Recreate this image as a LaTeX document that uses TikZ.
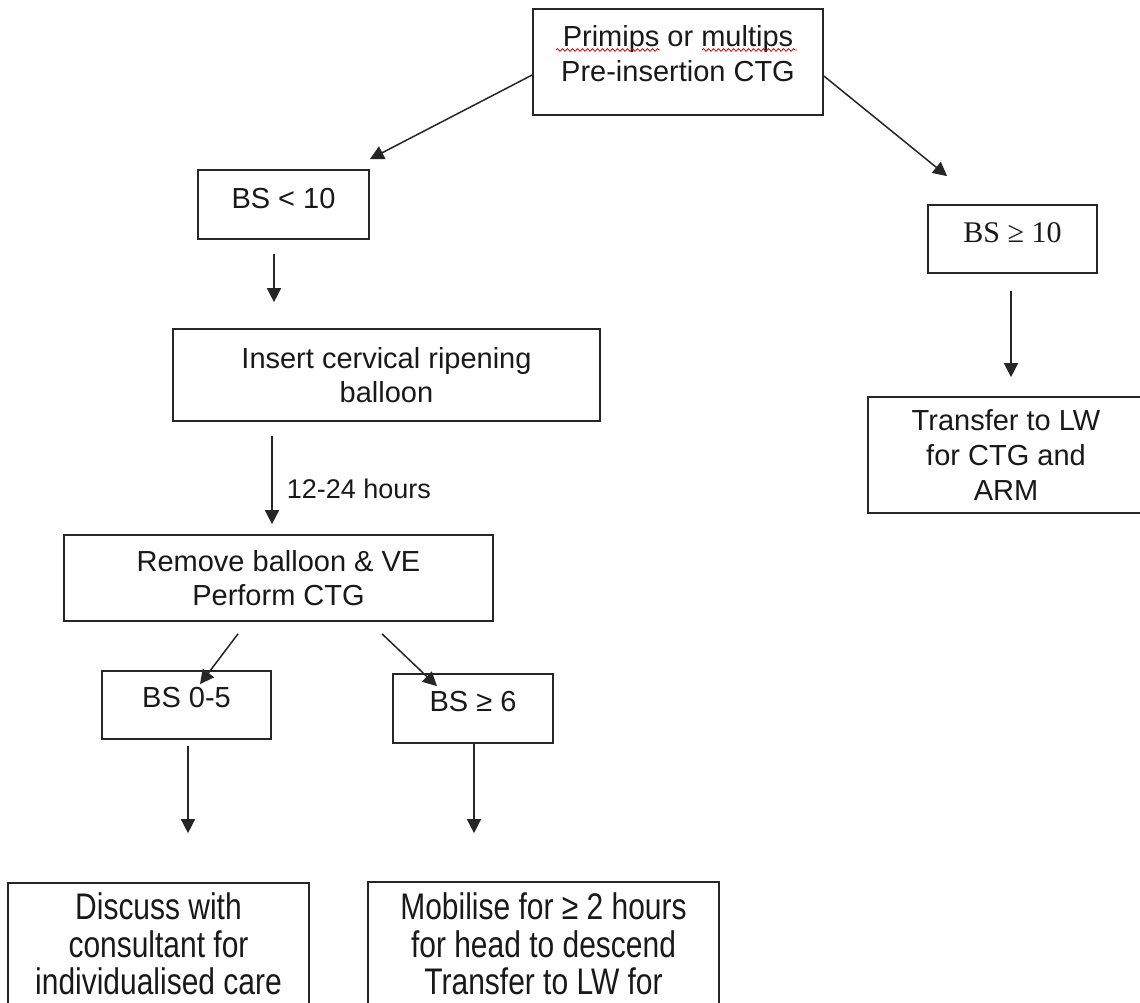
\documentclass[tikz,border=0pt]{standalone}
\usepackage{fontspec}
\setmainfont{Liberation Sans}
\newfontfamily\narrowfont[FakeStretch=0.81]{Liberation Sans}
\newfontfamily\serifont{Liberation Serif}
\usetikzlibrary{arrows.meta,decorations.pathmorphing}
\begin{document}
\begin{tikzpicture}[x=1pt,y=-1pt,
  box/.style={draw=black!85, line width=1.7pt, align=center, inner sep=0pt,
    font=\fontsize{29}{34}\selectfont, text=black!90},
  upbox/.style={box, text height=21pt, text depth=14pt},
  bigbox/.style={box, font=\narrowfont\fontsize{37}{37.5}\selectfont},
  txt/.style={align=center, inner sep=0pt, font=\fontsize{29}{35}\selectfont, text=black!90},
  arr/.style={draw=black!85, line width=1.5pt, -{Triangle[length=14pt,width=14pt]}},
  spell/.style={draw=red!85!black, line width=0.8pt,
    decorate, decoration={snake, amplitude=1.3pt, segment length=5pt}}]
\useasboundingbox[fill=white] (0,0) rectangle (1140,1003);

% boxes
\node[box, minimum width=290pt, minimum height=106pt] (top) at (678,62) {};
\node[txt] (toptext) at (678,54) {Primips or multips\\Pre-insertion CTG};
\draw[spell] (556,50) -- (660,50);
\draw[spell] (702,50) -- (797,50);

\node[upbox, minimum width=171pt, minimum height=69pt] (bslt) at (283.5,204.5) {BS < 10};
\node[upbox, font=\serifont\fontsize{30}{34}\selectfont, minimum width=169pt, minimum height=68pt] (bsge10) at (1012.5,239) {BS ≥ 10};
\node[box, minimum width=427pt, minimum height=92pt] (insert) at (386.5,375) {Insert cervical ripening\\balloon};
\node[box, minimum width=429pt, minimum height=86pt] (remove) at (278.5,578) {Remove balloon \& VE\\Perform CTG};
\node[box, font=\fontsize{29}{35}\selectfont, minimum width=276pt, minimum height=116pt] (transfer) at (1006,455) {Transfer to LW\\for CTG and\\ARM};
\node[upbox, text depth=16pt, minimum width=169pt, minimum height=68pt] (bs05) at (186.5,705) {BS 0-5};
\node[upbox, text depth=16pt, minimum width=160pt, minimum height=69pt] (bsge6) at (473,708.5) {BS ≥ 6};
\node[bigbox, minimum width=301pt, minimum height=122pt] (discuss) at (158.5,944) {Discuss with\\consultant for\\individualised care};
\node[bigbox, minimum width=351pt, minimum height=124pt] (mobilise) at (543.5,944) {Mobilise for ≥ 2 hours\\for head to descend\\Transfer to LW for};

% connectors
\draw[arr] ([yshift=-13pt]top.west) -- ([yshift=10pt]bslt.north east);
\draw[arr] ([yshift=-14pt]top.east) -- ([xshift=20pt,yshift=28pt]bsge10.north west);
\draw[arr] ([xshift=-9.5pt,yshift=-14pt]bslt.south) -- ([xshift=-112.5pt,yshift=26pt]insert.north);
\draw[arr] ([xshift=-114.5pt,yshift=-14pt]insert.south) -- ([xshift=-6.5pt,yshift=10pt]remove.north)
  node[pos=0.6, right=14pt, inner sep=0pt, font=\fontsize{27}{30}\selectfont, text=black!90] (hours) {12-24 hours};
\draw[arr] ([xshift=-40.5pt,yshift=-12pt]remove.south) -- ([xshift=13.5pt,yshift=-14pt]bs05.north);
\draw[arr] ([xshift=103.5pt,yshift=-12pt]remove.south) -- ([xshift=-36pt,yshift=-13pt]bsge6.north);
\draw[arr] ([xshift=1.5pt,yshift=-6pt]bs05.south) -- ([xshift=29.5pt,yshift=49pt]discuss.north);
\draw[arr] ([xshift=1pt]bsge6.south) -- ([xshift=-69.5pt,yshift=48pt]mobilise.north);
\draw[arr] ([xshift=-1.5pt,yshift=-17pt]bsge10.south) -- ([xshift=5pt,yshift=19pt]transfer.north);
\end{tikzpicture}
\end{document}
